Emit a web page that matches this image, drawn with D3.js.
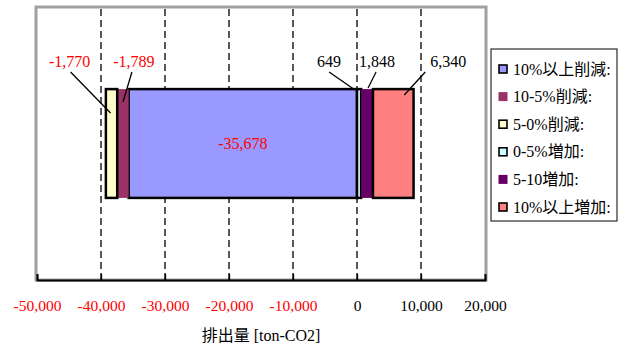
<!DOCTYPE html>
<html>
<head>
<meta charset="utf-8">
<script src="https://cdn.jsdelivr.net/npm/d3@7"></script>
<style>
body{margin:0;background:#fff;}
text{font-family:"Liberation Serif","Noto Sans CJK JP",serif;}
</style>
</head>
<body>
<svg class="chart" width="626" height="347"></svg>
<script>
// data
var categories = ["10%以上削減:","10-5%削減:","5-0%削減:","0-5%増加:","5-10増加:","10%以上増加:"];
var values = [-35678, -1789, -1770, 649, 1848, 6340];
var colors = ["#9999FF","#993366","#FFFFCC","#CCFFFF","#660066","#FF8080"];
var outlined = [true, false, true, true, false, true];
var tickValues = [-50000,-40000,-30000,-20000,-10000,0,10000,20000];
var axisTitle = "排出量 [ton-CO2]";

var svg = d3.select("svg.chart");
var plotLeft = 37, plotRight = 485, plotTop = 7, plotBottom = 280;
var fmt = function(v){ return d3.format(",")(v).replace("\u2212","-"); };

var x = d3.scaleLinear().domain([-50000,20000]).range([plotLeft,plotRight]);
var y = d3.scaleBand().domain(["all"]).range([plotTop,plotBottom]).padding(0.43);

// one row, diverging stack
var row = {key:"all"};
categories.forEach(function(c,i){ row[c] = values[i]; });
var series = d3.stack().keys(categories).offset(d3.stackOffsetDiverging)([row]);

// plot frame
svg.append("rect")
    .attr("x",plotLeft-1).attr("y",plotTop)
    .attr("width",plotRight-plotLeft+2).attr("height",plotBottom-plotTop)
    .attr("fill","#fff").attr("stroke","#a0a0a0").attr("stroke-width",3);

// dashed grid
svg.append("g").selectAll("line")
    .data(tickValues.slice(1,-1))
    .enter().append("line")
    .attr("x1",function(d){return x(d);}).attr("x2",function(d){return x(d);})
    .attr("y1",plotTop+2).attr("y2",plotBottom)
    .attr("stroke","#000").attr("stroke-width",1.3)
    .attr("stroke-dasharray","7,4");

// axis
var axis = svg.append("g")
    .attr("transform","translate(0,"+plotBottom+")")
    .call(d3.axisBottom(x).tickValues(tickValues).tickSize(-6).tickPadding(20)
        .tickFormat(fmt));
axis.select(".domain").attr("stroke","#000").attr("stroke-width",2);
axis.selectAll(".tick line").attr("stroke","#000").attr("stroke-width",1.3);
axis.selectAll(".tick text")
    .style("font-family","Liberation Serif").style("font-size","15.5px")
    .attr("fill",function(d){return d<0 ? "#FF0000" : "#000";});

svg.append("text")
    .attr("x",(plotLeft+plotRight)/2).attr("y",341)
    .attr("text-anchor","middle")
    .style("font-size","16px")
    .text(axisTitle);

// bars
svg.append("g").selectAll("rect")
    .data(series)
    .enter().append("rect")
    .attr("x",function(d){return x(Math.min(d[0][0],d[0][1]));})
    .attr("width",function(d){return Math.abs(x(d[0][1])-x(d[0][0]));})
    .attr("y",y("all"))
    .attr("height",y.bandwidth())
    .attr("fill",function(d,i){return colors[i];})
    .attr("stroke",function(d,i){return outlined[i] ? "#000" : "none";})
    .attr("stroke-width",2.5);

// labels: [label dx from segment middle, leader start dx, leader end dx, leader end y]
var labelLayout = [null,[11,-2,0,102],[-42,1,-1,113],[-30,0,-4,90],[10,-1,1,88],[55,-23,11,95]];
var labelY = 67;
series.forEach(function(s,i){
    var mid = (x(s[0][0])+x(s[0][1]))/2;
    var txt = fmt(values[i]);
    var col = values[i] < 0 ? "#FF0000" : "#000";
    if(!labelLayout[i]){
        svg.append("text").attr("x",mid).attr("y",y("all")+y.bandwidth()/2+5)
            .attr("text-anchor","middle").attr("fill",col)
            .style("font-size","16px").text(txt);
        return;
    }
    var L = labelLayout[i];
    svg.append("text").attr("x",mid+L[0]).attr("y",labelY)
        .attr("text-anchor","middle").attr("fill",col)
        .style("font-size","16px").text(txt);
    svg.append("line")
        .attr("x1",mid+L[0]+L[1]).attr("y1",labelY+5)
        .attr("x2",mid+L[2]).attr("y2",L[3])
        .attr("stroke","#000").attr("stroke-width",1.3);
});

// legend
var lg = svg.append("g");
lg.append("rect").attr("x",491).attr("y",49).attr("width",126).attr("height",172)
    .attr("fill","#fff").attr("stroke","#000").attr("stroke-width",1);
var items = lg.selectAll("g.item")
    .data(categories)
    .enter().append("g")
    .attr("transform",function(d,i){return "translate(0,"+(69+i*27.6)+")";});
items.append("rect")
    .attr("x",function(d,i){return outlined[i] ? 499 : 498.5;})
    .attr("y",function(d,i){return outlined[i] ? -4 : -4.5;})
    .attr("width",function(d,i){return outlined[i] ? 8 : 9;})
    .attr("height",function(d,i){return outlined[i] ? 8 : 9;})
    .attr("fill",function(d,i){return colors[i];})
    .attr("stroke",function(d,i){return outlined[i] ? "#000" : "none";})
    .attr("stroke-width",1.6);
items.append("text")
    .attr("x",513).attr("y",5.5)
    .style("font-size","16px")
    .text(function(d){return d;});
</script>
</body>
</html>
